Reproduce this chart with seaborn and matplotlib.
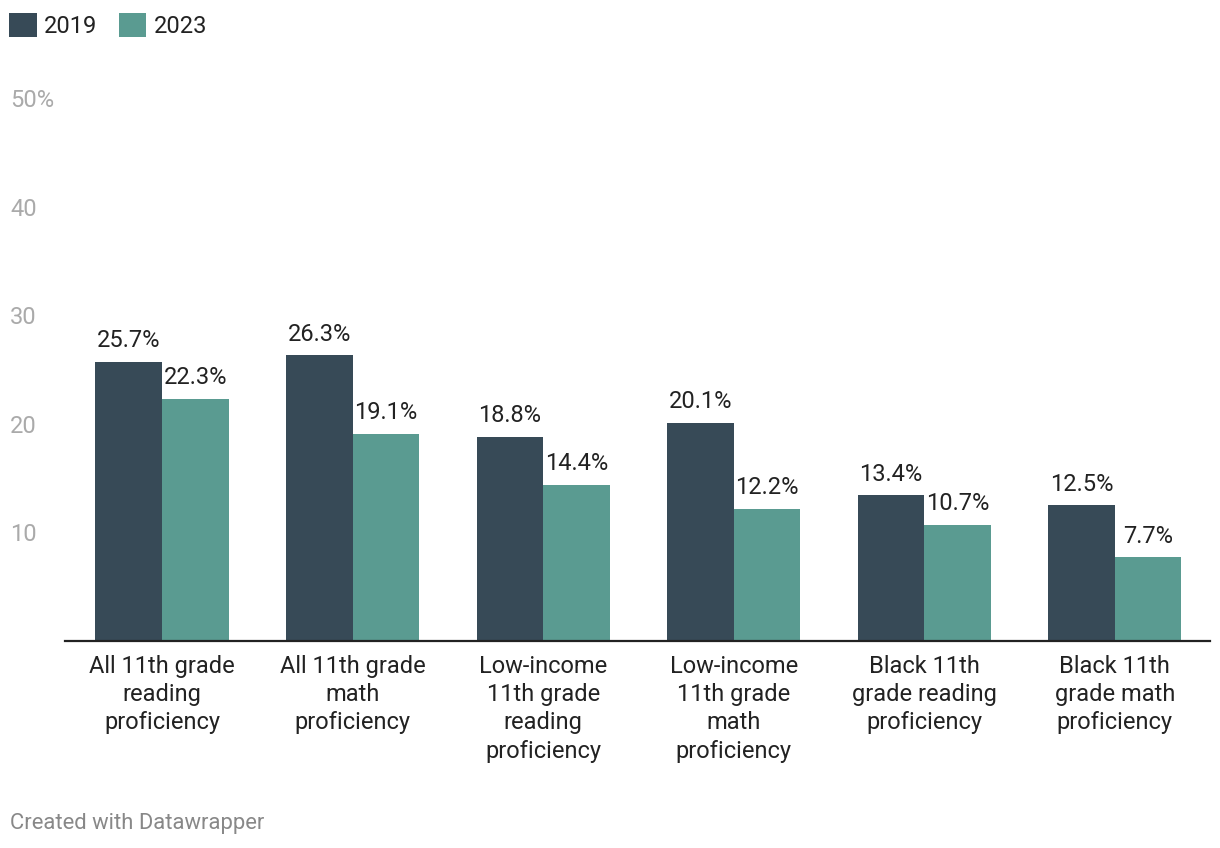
import matplotlib
matplotlib.use("Agg")
import matplotlib.pyplot as plt
import seaborn as sns
import pandas as pd

categories = [
    "All 11th grade\nreading\nproficiency",
    "All 11th grade\nmath\nproficiency",
    "Low-income\n11th grade\nreading\nproficiency",
    "Low-income\n11th grade\nmath\nproficiency",
    "Black 11th\ngrade reading\nproficiency",
    "Black 11th\ngrade math\nproficiency",
]
years = ["2019", "2023"]
values_2019 = [25.7, 26.3, 18.8, 20.1, 13.4, 12.5]
values_2023 = [22.3, 19.1, 14.4, 12.2, 10.7, 7.7]
y_ticks = [10, 20, 30, 40, 50]
y_tick_labels = ["10", "20", "30", "40", "50%"]
colors = ["#374a57", "#5a9b91"]

df = pd.DataFrame({
    "category": categories * 2,
    "year": [years[0]] * len(categories) + [years[1]] * len(categories),
    "value": values_2019 + values_2023,
})

sns.set_theme(style="white")
plt.rcParams["font.family"] = ["Roboto", "DejaVu Sans"]

fig = plt.figure(figsize=(12.2, 8.48), dpi=100)
ax = fig.add_axes([65 / 1220, 1 - 641 / 848, (1210 - 65) / 1220, (641 - 98) / 848])

sns.barplot(data=df, x="category", y="value", hue="year", order=categories,
            hue_order=years, palette=colors, width=0.7, gap=0, saturation=1,
            linewidth=0, ax=ax)

for container in ax.containers:
    ax.bar_label(container, labels=[f"{v:.1f}%" for v in container.datavalues],
                 padding=7, fontsize=17, color="#222222")

ax.set_ylim(0, 50)
ax.set_xlim(-0.51, 5.5)
ax.set_yticks(y_ticks)
ax.set_yticklabels(y_tick_labels)
ax.set_xlabel("")
ax.set_ylabel("")

for lbl in ax.get_yticklabels():
    lbl.set_horizontalalignment("left")
ax.tick_params(axis="y", length=0, pad=55 * 72 / 100, labelsize=17, labelcolor="#aaaaaa")
ax.tick_params(axis="x", length=0, pad=10, labelsize=17, labelcolor="#222222")
for lbl in ax.get_xticklabels():
    lbl.set_linespacing(1.29)
    lbl.set_verticalalignment("top")

for s in ["top", "right", "left"]:
    ax.spines[s].set_visible(False)
ax.spines["bottom"].set_color("#222222")
ax.spines["bottom"].set_linewidth(1.6)
ax.grid(False)

handles, labels = ax.get_legend_handles_labels()
ax.get_legend().remove()
fig.legend(handles, labels, loc="upper left", bbox_to_anchor=(2 / 1220, 1 - 6 / 848),
           ncol=2, frameon=False, fontsize=17, handlelength=1.18, handleheight=1.18,
           handletextpad=0.3, columnspacing=0.9, borderaxespad=0, borderpad=0.3,
           labelcolor="#222222")

fig.text(10 / 1220, 1 - 823 / 848, "Created with Datawrapper", fontsize=15.8,
         color="#888888", ha="left", va="center")

fig.savefig("out.png", dpi=100, facecolor="white")
